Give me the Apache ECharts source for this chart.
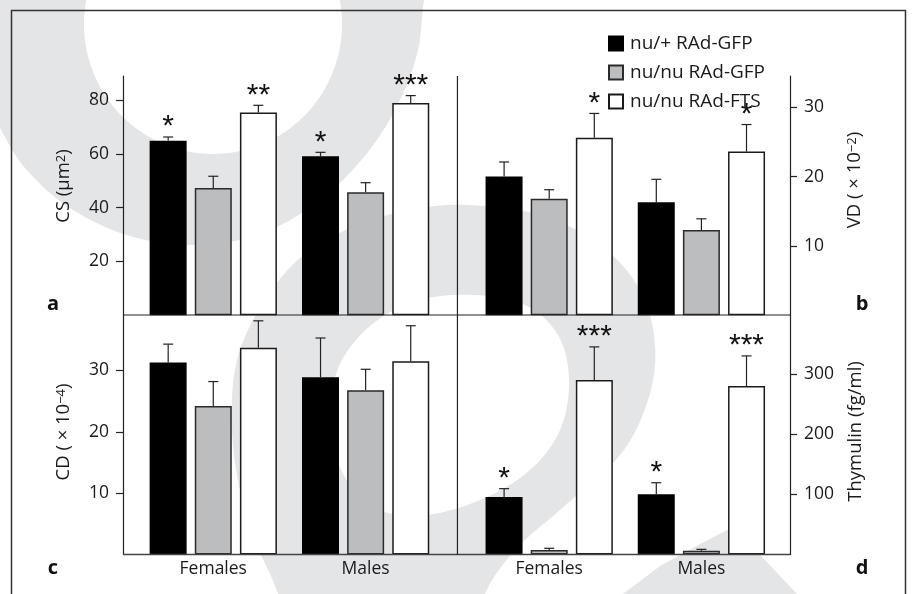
<!DOCTYPE html>
<html>
<head>
<meta charset="utf-8">
<script src="https://cdn.jsdelivr.net/npm/echarts@6/dist/echarts.min.js"></script>
<style>html,body{margin:0;padding:0;background:#fff}#c{width:912px;height:594px}</style>
</head>
<body>
<div id="c"></div>
<script>
// ---------------- DATA ----------------
const categories = ['Females', 'Males'];
const groupNames = ['nu/+ RAd-GFP', 'nu/nu RAd-GFP', 'nu/nu RAd-FTS'];

// Panel a: CS (µm²)  [group][category]
const csMean = [[64.9, 59.1], [47.3, 45.7], [75.4, 79.0]];
const csErr = [[1.4, 1.5], [4.4, 3.6], [2.7, 2.7]];
const csStars = [['*', '*'], ['', ''], ['**', '***']];
const csTicks = [20, 40, 60, 80];

// Panel b: VD (×10⁻²)
const vdMean = [[20.0, 16.3], [16.8, 12.3], [25.6, 23.6]];
const vdErr = [[2.1, 3.3], [1.3, 1.6], [3.5, 3.9]];
const vdStars = [['', ''], ['', ''], ['*', '*']];
const vdTicks = [10, 20, 30];

// Panel c: CD (×10⁻⁴)
const cdMean = [[31.3, 28.9], [24.2, 26.8], [33.7, 31.5]];
const cdErr = [[3.0, 6.4], [4.0, 3.4], [4.4, 5.8]];
const cdStars = [['', ''], ['', ''], ['', '']];
const cdTicks = [10, 20, 30];

// Panel d: Thymulin (fg/ml)
const thyMean = [[95.6, 100], [7.5, 6.3], [290, 280]];
const thyErr = [[13.8, 19.3], [2.8, 2.3], [55, 50]];
const thyStars = [['*', '*'], ['', ''], ['***', '***']];
const thyTicks = [100, 200, 300];

// axis titles (rich text: {sup|...} = superscript)
const titles = ['CS (µm{sup|2})', 'VD ( × 10{sup|−2})', 'CD ( × 10{sup|−4})', 'Thymulin (fg/ml)'];

// ---------------- STYLE / LAYOUT ----------------
const FONT = '"Open Sans", "Noto Sans", "DejaVu Sans", sans-serif';
const STAR_FONT = '30px "Liberation Sans", Arial, sans-serif';
const TXT = '#1a1a1a';
const fills = ['#000000', '#bcbdbf', '#ffffff'];
const borders = ['#000000', '#2a2a2a', '#1a1a1a'];
const BAR_W = 37;
const BAR_STEP = 45.1;
const WM = '#e4e5e7';

const cols = [{ left: 137.1, width: 304.7, axisX: 123, side: 'left', offset: 14 },
              { left: 473.1, width: 304.4, axisX: 790, side: 'right', offset: 12.5 }];
const rows = [{ top: 76, height: 239.2 }, { top: 315, height: 239.5 }];
const titlePos = [[64, 186], [855, 180], [64, 432], [856, 431.5]];

const panels = [
  { mean: csMean, err: csErr, stars: csStars, ticks: csTicks, max: 89, col: 0, row: 0 },
  { mean: vdMean, err: vdErr, stars: vdStars, ticks: vdTicks, max: 34.5, col: 1, row: 0 },
  { mean: cdMean, err: cdErr, stars: cdStars, ticks: cdTicks, max: 39.05, col: 0, row: 1 },
  { mean: thyMean, err: thyErr, stars: thyStars, ticks: thyTicks, max: 398, col: 1, row: 1 }
];

const grid = [], xAxis = [], yAxis = [], series = [];
panels.forEach((p, i) => {
  const c = cols[p.col], r = rows[p.row];
  grid.push({ left: c.left, top: r.top, width: c.width, height: r.height, containLabel: false });
  xAxis.push({
    gridIndex: i, type: 'category', data: categories,
    axisLine: { show: false }, axisTick: { show: false }, splitLine: { show: false },
    axisLabel: { show: p.row === 1, fontSize: 17.5, fontFamily: FONT, color: TXT, margin: 6 }
  });
  yAxis.push({
    gridIndex: i, type: 'value', min: 0, max: p.max, position: c.side, offset: c.offset,
    axisLine: { show: true, lineStyle: { color: '#222', width: 1.2 } },
    axisTick: { show: true, inside: false, length: 7, customValues: p.ticks, lineStyle: { color: '#222', width: 1.2 } },
    axisLabel: { customValues: p.ticks, fontSize: 17.5, fontFamily: FONT, color: TXT, margin: 14 },
    splitLine: { show: false }
  });
  for (let g = 0; g < 3; g++) {
    series.push({
      type: 'bar', name: groupNames[g], xAxisIndex: i, yAxisIndex: i,
      data: p.mean[g], barWidth: BAR_W, barGap: '22%',
      itemStyle: { color: fills[g], borderColor: borders[g], borderWidth: 1.5 },
      emphasis: { disabled: true }, z: 2
    });
  }
  const errData = [];
  for (let g = 0; g < 3; g++) for (let k = 0; k < 2; k++) errData.push([k, g, p.mean[g][k] + p.err[g][k], p.mean[g][k]]);
  series.push({
    type: 'custom', xAxisIndex: i, yAxisIndex: i, z: 5, silent: true,
    encode: { x: 0, y: 2 }, data: errData, clip: false,
    renderItem: function (params, api) {
      const k = api.value(0), g = api.value(1);
      const top = api.coord([k, api.value(2)]);
      const base = api.coord([k, api.value(3)]);
      const x = top[0] + (g - 1) * BAR_STEP;
      const st = { stroke: '#222', lineWidth: 1.2 };
      const children = [
        { type: 'line', shape: { x1: x, y1: base[1], x2: x, y2: top[1] }, style: st },
        { type: 'line', shape: { x1: x - 5, y1: top[1], x2: x + 5, y2: top[1] }, style: st }
      ];
      const star = p.stars[g][k];
      if (star) children.push({ type: 'text', style: { text: star, x: x, y: top[1] + 5, align: 'center', verticalAlign: 'bottom', font: STAR_FONT, fill: '#111' } });
      return { type: 'group', children: children };
    }
  });
});

// frame & dividers, panel letters, axis titles, background watermark
const xl = cols[0].axisX, xr = cols[1].axisX, xm = cols[1].left - (cols[1].left - (cols[0].left + cols[0].width)) / 2;
const yt = rows[0].top, ym = rows[1].top, yb = rows[1].top + rows[1].height;
const line = (x1, y1, x2, y2, w, c) => ({ type: 'line', silent: true, z: 10, shape: { x1, y1, x2, y2 }, style: { stroke: c || '#222', lineWidth: w || 1.2 } });
const letter = (t, x, y) => ({ type: 'text', silent: true, z: 10, style: { text: t, x, y, align: 'center', verticalAlign: 'middle', font: 'bold 20px ' + FONT, fill: '#111' } });
const poly = (pts, fill, smooth) => ({ type: 'polygon', silent: true, z: -10, shape: { points: pts, smooth: smooth || 0 }, style: { fill: fill } });
const title = (t, pos) => ({
  type: 'text', silent: true, z: 10, x: pos[0], y: pos[1], rotation: Math.PI / 2,
  style: {
    text: t, x: 0, y: 0, align: 'center', verticalAlign: 'middle', fill: TXT,
    font: '18.5px ' + FONT,
    rich: { sup: { fontSize: 13, fontFamily: FONT, verticalAlign: 'top', fill: TXT } }
  }
});

const graphic = [
  // watermark
  poly([[-20, -20], [430, -20], [424, 0], [418, 50], [400, 100], [368, 152], [320, 200], [260, 234], [195, 245], [130, 236], [70, 208], [25, 168], [0, 128], [-20, 90]], WM, 0.35),
  { type: 'ellipse', silent: true, z: -9, shape: { cx: 213, cy: 24, rx: 129, ry: 130 }, style: { fill: '#fff' } },
  poly([[467, 205], [540, 215], [600, 245], [640, 290], [655, 345], [648, 400], [620, 455], [560, 510], [515, 550], [485, 594], [485, 620], [280, 620], [278, 594], [255, 540], [236, 470], [232, 400], [240, 350], [265, 300], [300, 258], [350, 228], [410, 210]], WM, 0.35),
  poly([[473, 295], [525, 305], [558, 335], [569, 380], [560, 430], [530, 470], [480, 500], [420, 516], [380, 510], [350, 485], [333, 445], [330, 405], [342, 360], [375, 322], [420, 300]], '#fff', 0.35),
  poly([[612, 610], [623, 594], [660, 566], [700, 544], [733, 527], [765, 560], [797, 594], [808, 610]], WM, 0),
  // outer frame
  { type: 'rect', silent: true, z: 10, shape: { x: 11.5, y: 10.5, width: 894, height: 620 }, style: { fill: 'none', stroke: '#333', lineWidth: 1.5 } },
  line(xl, ym, xr, ym),
  line(xl, yb, xr, yb, 1.5, '#444'),
  line(xm, yt, xm, yb),
  letter('a', 53, 304), letter('b', 862, 304), letter('c', 53, 568), letter('d', 862, 568)
].concat(titles.map((t, i) => title(t, titlePos[i])));

const chart = echarts.init(document.getElementById('c'), null, { renderer: 'canvas' });
chart.setOption({
  animation: false,
  backgroundColor: '#fff',
  textStyle: { fontFamily: FONT },
  legend: {
    data: groupNames, orient: 'vertical', left: 608, top: 34, padding: 0, icon: 'rect',
    itemWidth: 14, itemHeight: 14, itemGap: 10, selectedMode: false,
    textStyle: { fontSize: 19, lineHeight: 14, fontFamily: FONT, color: TXT, padding: [0, 0, 0, 2] }
  },
  grid, xAxis, yAxis, series, graphic
});
</script>
</body>
</html>
